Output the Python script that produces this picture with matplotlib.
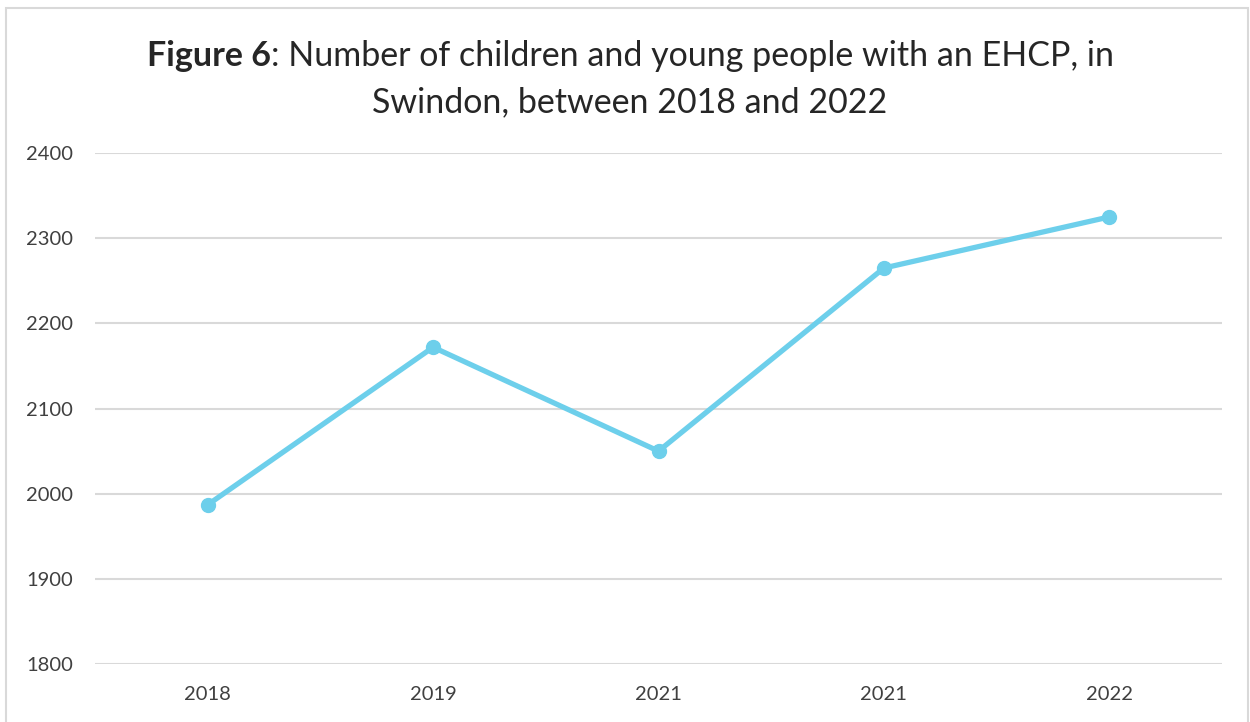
import numpy as np
import matplotlib.pyplot as plt
from matplotlib.patches import Rectangle

plt.rcParams['font.family'] = ['Lato', 'DejaVu Sans']

years = ['2018', '2019', '2021', '2021', '2022']
ehcp = [1987, 2172, 2050, 2265, 2325]
yticks = [1800, 1900, 2000, 2100, 2200, 2300, 2400]

line_col = '#6DCFEB'
text_col = '#404040'
grid_col = '#D9D9D9'

fig = plt.figure(figsize=(12.5, 7.22), dpi=100)
ax = fig.add_axes([0.076, 0.0803, 0.9016, 0.7077])

x = np.arange(len(years))
ax.plot(x, ehcp, color=line_col, lw=3.8, marker='o', ms=10,
        solid_capstyle='round', zorder=3)

ax.set_xlim(-0.5, len(years) - 0.5)
ax.set_ylim(yticks[0], yticks[-1])
ax.set_yticks(yticks)
ax.set_xticks(x)
ax.set_xticklabels(years)
ax.tick_params(axis='both', length=0, labelsize=14.5, colors=text_col)
ax.tick_params(axis='y', pad=16)
ax.tick_params(axis='x', pad=16)
ax.grid(axis='y', color=grid_col, lw=1.5)
ax.set_axisbelow(True)
for s in ax.spines.values():
    s.set_visible(False)

# chart frame
fig.patches.append(Rectangle((0.005, -0.01), 0.993, 0.999,
                             transform=fig.transFigure, fill=False,
                             edgecolor='#D9D9D9', lw=1.5))

# title: bold lead-in followed by regular text, centred as one line
fs = 24.5
bold = fig.text(0, 0.922, 'Figure 6', fontsize=fs, weight='bold',
                color='#262626', va='center')
rest = fig.text(0, 0.922, ': Number of children and young people with an EHCP, in',
                fontsize=fs, color='#262626', va='center')
fig.canvas.draw()
r = fig.canvas.get_renderer()
wb = bold.get_window_extent(r).width / fig.bbox.width
wr = rest.get_window_extent(r).width / fig.bbox.width
x0 = 0.504 - (wb + wr) / 2
bold.set_x(x0)
rest.set_x(x0 + wb)
fig.text(0.504, 0.859, 'Swindon, between 2018 and 2022', fontsize=fs,
         color='#262626', ha='center', va='center')

fig.savefig('out.png', dpi=100)
